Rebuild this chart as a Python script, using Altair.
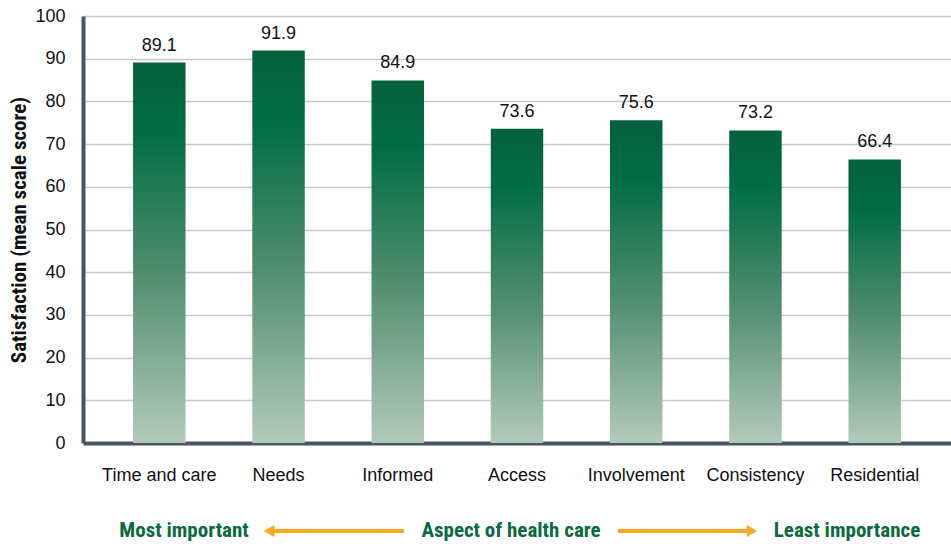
import altair as alt
import pandas as pd

categories = ["Time and care", "Needs", "Informed", "Access", "Involvement", "Consistency", "Residential"]
values = [89.1, 91.9, 84.9, 73.6, 75.6, 73.2, 66.4]
y_ticks = [0, 10, 20, 30, 40, 50, 60, 70, 80, 90, 100]

df = pd.DataFrame({"aspect": categories, "score": values,
                   "label": [f"{v:.1f}" for v in values]})

FONT = "Liberation Sans"
NARROW = "Liberation Sans Narrow, Roboto Condensed, Liberation Sans"
GREEN = "#0b6b3f"
ORANGE = "#f9ab1c"

W, H = 868, 427

x_enc = alt.X("aspect:N", sort=categories,
              scale=alt.Scale(paddingInner=0.56, paddingOuter=0.42),
              axis=alt.Axis(title=None, labelAngle=0, labelFont=FONT, labelFontSize=18,
                            labelColor="#111111", labelPadding=23, ticks=False,
                            domainColor="#4a5561", domainWidth=4))

bars = alt.Chart(df).mark_bar(
    color=alt.Gradient(
        gradient="linear", x1=0, x2=0, y1=0, y2=1,
        stops=[alt.GradientStop(offset=0, color="#04613c"),
               alt.GradientStop(offset=0.18, color="#006d45"),
               alt.GradientStop(offset=0.55, color="#4f8d6d"),
               alt.GradientStop(offset=1, color="#b3cabb")])
).encode(
    x=x_enc,
    y=alt.Y("score:Q", scale=alt.Scale(domain=[0, 100], nice=False),
            axis=alt.Axis(title="Satisfaction (mean scale score)", values=y_ticks,
                          titleFont=NARROW, titleFontSize=21, titleFontWeight="bold",
                          titleColor="#111111", titlePadding=5,
                          labelFont=FONT, labelFontSize=18, labelColor="#111111",
                          labelPadding=18, ticks=False,
                          grid=True, gridColor="#c5c9cd", gridWidth=1.5,
                          domainColor="#4a5561", domainWidth=4))
)

labels = alt.Chart(df).mark_text(
    font=FONT, fontSize=18, color="#111111", dy=-17
).encode(x=alt.X("aspect:N", sort=categories), y="score:Q", text="label:N")

# Bottom annotation (x in plot-area pixels)
ann_text = pd.DataFrame({"t": ["Most important", "Aspect of health care", "Least importance"],
                         "px": [101, 428, 764]})
annot = alt.Chart(ann_text).mark_text(
    font=NARROW, fontSize=21, fontWeight="bold", color=GREEN, baseline="middle"
).encode(x=alt.X("px:Q", scale=None), y=alt.value(H + 88), text="t:N")

arrow_df = pd.DataFrame({"xa": [186, 535], "xb": [321, 669]})
shafts = alt.Chart(arrow_df).mark_rule(color=ORANGE, strokeWidth=4).encode(
    x=alt.X("xa:Q", scale=None), x2="xb:Q", y=alt.value(H + 88))

heads_df = pd.DataFrame({"hx": [186, 669], "shape": ["triangle-left", "triangle-right"]})
heads = alt.Chart(heads_df).mark_point(filled=True, color=ORANGE, opacity=1, size=150).encode(
    x=alt.X("hx:Q", scale=None), y=alt.value(H + 88),
    shape=alt.Shape("shape:N", scale=None, legend=None))

chart = alt.layer(bars, labels, shafts, heads, annot).properties(
    width=W, height=H,
    autosize=alt.AutoSizeParams(type="none"),
    padding={"left": 83, "top": 16, "right": 0, "bottom": 101}
).configure_view(stroke=None).configure(background="white")

chart.save("out.html", embed_options={"renderer": "svg", "actions": False})
